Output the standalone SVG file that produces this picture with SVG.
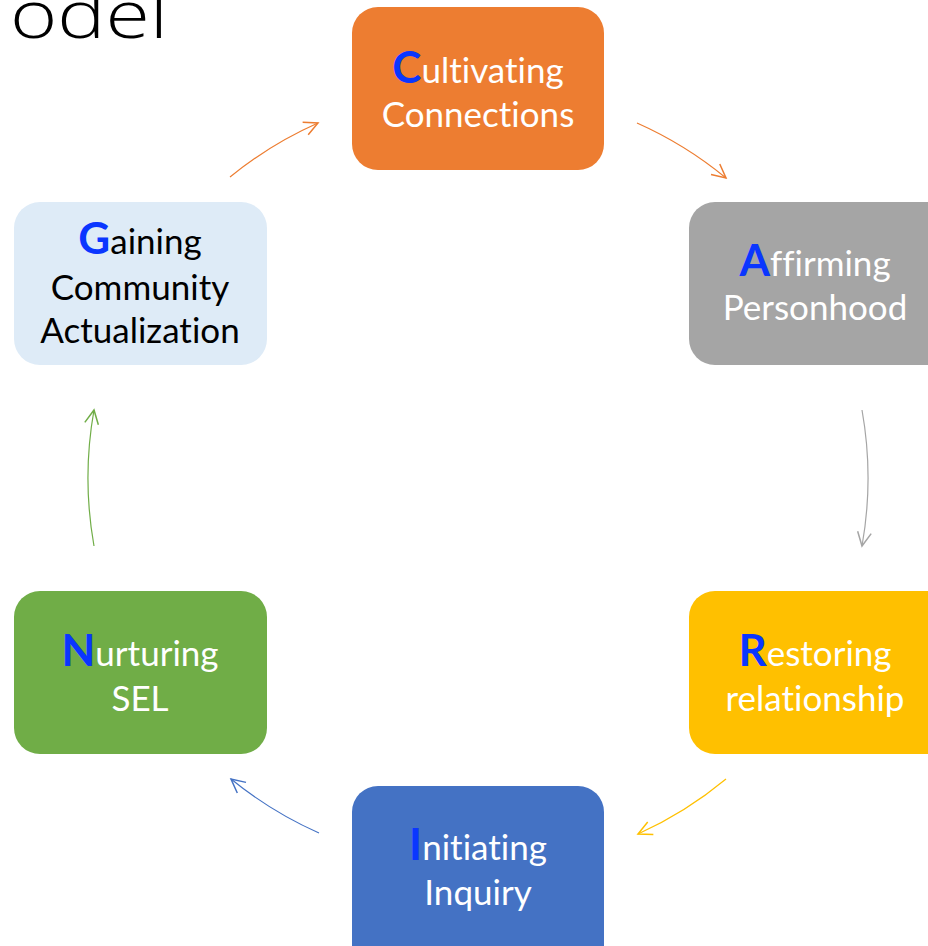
<svg xmlns="http://www.w3.org/2000/svg" width="928" height="946" viewBox="0 0 928 946">
<style>
.lbl{font-family:Lato,"Open Sans","Liberation Sans",sans-serif;font-size:35px;text-anchor:middle;font-variant-ligatures:none}
.w{fill:#FFFFFF}
.k{fill:#000000}
.ini{font-weight:bold;font-size:44px;fill:#0A36FF}
.con{fill:none;stroke-width:1.2}
</style>
<defs>
<marker id="mo" markerUnits="userSpaceOnUse" markerWidth="20" markerHeight="20" viewBox="-12 -8 14 16" refX="0" refY="0" orient="auto"><path d="M-11,-5.5 L0,0 L-11,5.5" fill="none" stroke="#ED7D31" stroke-width="1.2"/></marker>
<marker id="mg" markerUnits="userSpaceOnUse" markerWidth="20" markerHeight="20" viewBox="-12 -8 14 16" refX="0" refY="0" orient="auto"><path d="M-11,-5.5 L0,0 L-11,5.5" fill="none" stroke="#A5A5A5" stroke-width="1.2"/></marker>
<marker id="my" markerUnits="userSpaceOnUse" markerWidth="20" markerHeight="20" viewBox="-12 -8 14 16" refX="0" refY="0" orient="auto"><path d="M-11,-5.5 L0,0 L-11,5.5" fill="none" stroke="#FFC000" stroke-width="1.2"/></marker>
<marker id="mb" markerUnits="userSpaceOnUse" markerWidth="20" markerHeight="20" viewBox="-12 -8 14 16" refX="0" refY="0" orient="auto"><path d="M-11,-5.5 L0,0 L-11,5.5" fill="none" stroke="#4472C4" stroke-width="1.2"/></marker>
<marker id="mn" markerUnits="userSpaceOnUse" markerWidth="20" markerHeight="20" viewBox="-12 -8 14 16" refX="0" refY="0" orient="auto"><path d="M-11,-5.5 L0,0 L-11,5.5" fill="none" stroke="#70AD47" stroke-width="1.2"/></marker>
</defs>
<rect width="928" height="946" fill="#FFFFFF"/>
<text x="10" y="38" font-family="'Open Sans','Liberation Sans',sans-serif" font-weight="300" font-size="66" textLength="158" lengthAdjust="spacingAndGlyphs" fill="#000">odel</text>
<g id="connectors">
<path class="con" stroke="#ED7D31" d="M230,177 A387,387 0 0 1 318,123" marker-end="url(#mo)"/>
<path class="con" stroke="#ED7D31" d="M637,123 A387,387 0 0 1 726,178" marker-end="url(#mo)"/>
<path class="con" stroke="#A5A5A5" d="M862,410 A387,387 0 0 1 862,546" marker-end="url(#mg)"/>
<path class="con" stroke="#FFC000" d="M726,779 A387,387 0 0 1 638,834" marker-end="url(#my)"/>
<path class="con" stroke="#4472C4" d="M319,833 A387,387 0 0 1 231,779" marker-end="url(#mb)"/>
<path class="con" stroke="#70AD47" d="M94,546 A387,387 0 0 1 94,410" marker-end="url(#mn)"/>
</g>
<g id="node-c">
<rect x="352" y="7" width="252" height="163" rx="26" fill="#ED7D31"/>
<text class="lbl w" x="478" y="83"><tspan class="ini">C</tspan>ultivating</text>
<text class="lbl w" x="478" y="127">Connections</text>
</g>
<g id="node-a">
<rect x="689" y="202" width="270" height="163" rx="26" fill="#A5A5A5"/>
<text class="lbl w" x="815" y="276"><tspan class="ini">A</tspan>ffirming</text>
<text class="lbl w" x="815" y="320">Personhood</text>
</g>
<g id="node-r">
<rect x="689" y="591" width="270" height="163" rx="26" fill="#FFC000"/>
<text class="lbl w" x="815" y="666"><tspan class="ini">R</tspan>estoring</text>
<text class="lbl w" x="815" y="711">relationship</text>
</g>
<g id="node-i">
<rect x="352" y="786" width="252" height="190" rx="26" fill="#4472C4"/>
<text class="lbl w" x="478" y="860"><tspan class="ini">I</tspan>nitiating</text>
<text class="lbl w" x="478" y="905">Inquiry</text>
</g>
<g id="node-n">
<rect x="14" y="591" width="253" height="163" rx="26" fill="#70AD47"/>
<text class="lbl w" x="140" y="666"><tspan class="ini">N</tspan>urturing</text>
<text class="lbl w" x="140" y="711">SEL</text>
</g>
<g id="node-g">
<rect x="14" y="202" width="253" height="163" rx="26" fill="#DEEBF7"/>
<text class="lbl k" x="140" y="254"><tspan class="ini">G</tspan>aining</text>
<text class="lbl k" x="140" y="300">Community</text>
<text class="lbl k" x="140" y="343">Actualization</text>
</g>
</svg>
